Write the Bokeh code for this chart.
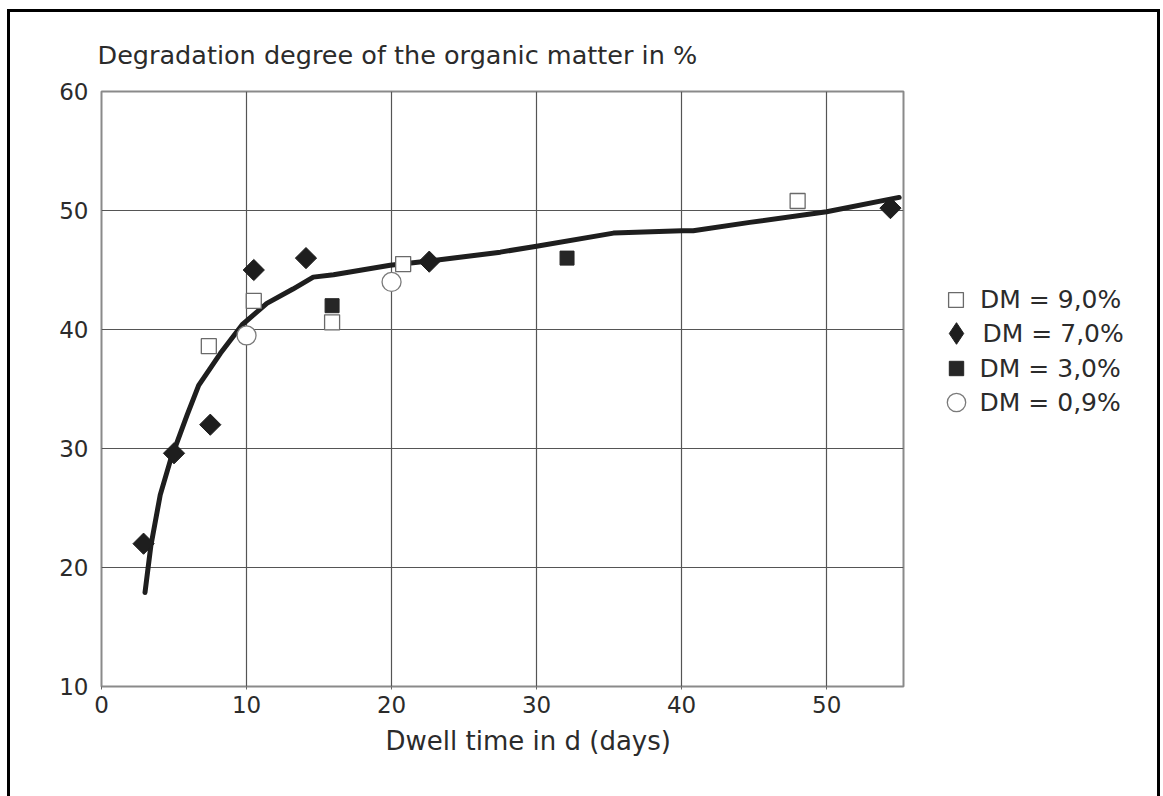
import numpy as np
from bokeh.plotting import figure
from bokeh.layouts import row
from bokeh.models import Range1d, FixedTicker, Legend, LegendItem, Title
from bokeh.embed import file_html
from bokeh.resources import INLINE

# Degradation degree (%) versus dwell time (days) for four dry-matter contents
dm90_x = [7.4, 10.5, 15.9, 20.8, 48.0]
dm90_y = [38.6, 42.4, 40.6, 45.5, 50.8]

dm70_x = [2.9, 5.0, 7.5, 10.5, 14.1, 22.6, 54.4]
dm70_y = [22.0, 29.6, 32.0, 45.0, 46.0, 45.7, 50.2]

dm30_x = [15.9, 32.1]
dm30_y = [42.0, 46.0]

dm09_x = [10.0, 20.0]
dm09_y = [39.5, 44.0]

# Fitted trend curve
fit_x = [3.0, 3.4, 4.05, 4.75, 5.9, 6.7, 8.2, 9.7, 11.4, 13.2, 14.6, 16.0,
         19.9, 22.9, 27.5, 30.0, 35.3, 40.0, 40.8, 44.7, 50.0, 55.0]
fit_y = [17.9, 21.8, 26.1, 29.0, 32.8, 35.3, 38.0, 40.4, 42.2, 43.4, 44.4, 44.6,
         45.4, 45.8, 46.5, 47.0, 48.1, 48.3, 48.3, 49.0, 49.9, 51.1]

x_ticks = [0, 10, 20, 30, 40, 50]
y_ticks = [10, 20, 30, 40, 50, 60]
series_labels = ["DM = 9,0%", "DM = 7,0%", "DM = 3,0%", "DM = 0,9%"]
title_text = "Degradation degree of the organic matter in %"
xlabel_text = "Dwell time in d (days)"

FONT = "DejaVu Sans"
TEXT = "#2b2b2b"
DARK = "#1e1e1e"

# marker styles of the four series
styles = [
    dict(marker="square", size=15, fill_color="white",
         line_color="#6a6a6a", line_width=1.3),
    dict(marker="square", angle=np.pi / 4, size=15, fill_color=DARK,
         line_color=DARK, line_width=1),
    dict(marker="square", size=14, fill_color="#262626",
         line_color="#262626", line_width=1),
    dict(marker="circle", size=19, fill_color="white",
         line_color="#7a7a7a", line_width=1.3),
]

p = figure(width=895, height=784,
           x_range=Range1d(0, 55.3), y_range=Range1d(10, 60),
           output_backend="svg", toolbar_location=None,
           min_border_left=91, min_border_right=2,
           min_border_top=79, min_border_bottom=110)

p.background_fill_color = "white"
p.border_fill_color = "white"
p.outline_line_color = "#8a8a8a"
p.outline_line_width = 2

# heading above the plot area
p.title.text = title_text
p.title.align = "left"
p.title.offset = -4
p.title.standoff = 43
p.title.text_font = FONT
p.title.text_font_size = "25.5px"
p.title.text_font_style = "normal"
p.title.text_color = TEXT

# axes
for ax, ticks in ((p.xaxis, x_ticks), (p.yaxis, y_ticks)):
    ax.ticker = FixedTicker(ticks=ticks)
    ax.axis_line_color = None
    ax.major_tick_in = 0
    ax.minor_tick_in = 0
    ax.minor_tick_out = 0
    ax.major_label_text_font = FONT
    ax.major_label_text_font_size = "23px"
    ax.major_label_text_color = TEXT

p.xaxis.major_tick_out = 3
p.xaxis.major_tick_line_color = "#666666"
p.xaxis.major_label_standoff = 6
p.yaxis.major_tick_out = 0
p.yaxis.major_label_standoff = 13

# x-axis caption, placed under the tick labels
p.add_layout(Title(text=xlabel_text, align="left", offset=284, standoff=16,
                   text_font=FONT, text_font_size="26px",
                   text_font_style="normal", text_color=TEXT), "below")

# grid
p.xgrid.ticker = FixedTicker(ticks=x_ticks)
p.ygrid.ticker = FixedTicker(ticks=y_ticks)
for g in (p.xgrid, p.ygrid):
    g.grid_line_color = "#555555"
    g.grid_line_width = 1.2

# trend curve
p.line(fit_x, fit_y, line_width=5, line_color=DARK,
       line_join="round", line_cap="round")

# measured points
series = [(dm90_x, dm90_y), (dm70_x, dm70_y), (dm30_x, dm30_y), (dm09_x, dm09_y)]
for (xs, ys), st in zip(series, styles):
    p.scatter(xs, ys, **st)

# legend panel to the right of the plot
pl = figure(width=252, height=784, x_range=Range1d(0, 1), y_range=Range1d(0, 1),
            output_backend="svg", toolbar_location=None, min_border=0,
            x_axis_location=None, y_axis_location=None)
pl.xgrid.visible = False
pl.ygrid.visible = False
pl.outline_line_color = None
pl.background_fill_color = "white"
pl.border_fill_color = "white"

# legend keys: same styles, their points lie outside this panel's ranges
key_styles = [dict(st) for st in styles]
key_styles[1] = dict(marker="diamond", fill_color=DARK, line_color=DARK,
                     line_width=1)
keys = [pl.scatter(x=xs[:1], y=ys[:1], **st)
        for (xs, ys), st in zip(series, key_styles)]

# one legend row per series, each with its own key size
key_box = [37, 54, 36, 46]      # glyph box edge; marker size is 0.4 of it
row_mid = [299, 333, 368, 402]  # vertical centre of each row (page px)
key_cx, text_x = 955.6, 980     # key centre and text start (page px)
frame_left, frame_bottom = 905, 686

for lbl, r, g, cy in zip(series_labels, keys, key_box, row_mid):
    lg = Legend(
        items=[LegendItem(label=lbl, renderers=[r])],
        location=(key_cx - g / 2 - frame_left, frame_bottom - (cy + g / 2)),
        border_line_color=None,
        background_fill_alpha=0,
        padding=0, margin=0, spacing=0,
        glyph_width=g, glyph_height=g, label_height=g,
        label_standoff=max(0, round(text_x - (key_cx + g / 2))),
        label_text_font=FONT, label_text_font_size="25px",
        label_text_color=TEXT,
    )
    pl.add_layout(lg)

# black frame around the whole chart (open at the bottom)
layout = row(p, pl, styles={
    "margin-left": "7px",
    "margin-top": "9px",
    "border-left": "3px solid black",
    "border-top": "3px solid black",
    "border-right": "3px solid black",
    "box-sizing": "content-box",
})

open("out.html", "w").write(file_html(layout, INLINE))
